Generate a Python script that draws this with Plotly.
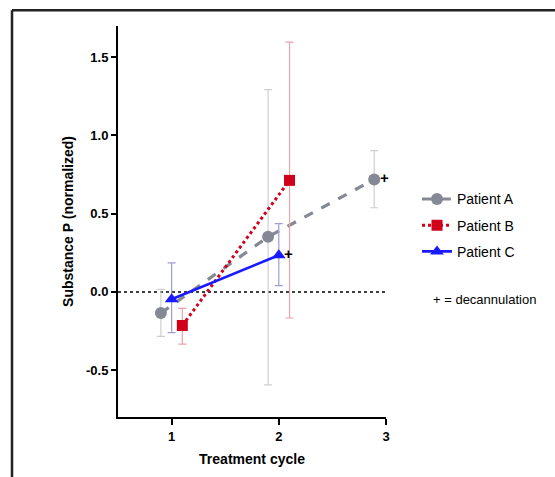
import plotly.graph_objects as go

# ---- data ----
cycle_a = [0.9, 1.9, 2.89]
value_a = [-0.135, 0.352, 0.719]
err_plus_a = [0.151, 0.941, 0.184]
err_minus_a = [0.150, 0.947, 0.181]

cycle_b = [1.1, 2.1]
value_b = [-0.215, 0.713]
err_plus_b = [0.109, 0.884]
err_minus_b = [0.119, 0.880]

cycle_c = [1.0, 2.0]
value_c = [-0.047, 0.234]
err_plus_c = [0.232, 0.203]
err_minus_c = [0.213, 0.194]

decann_x = [2.89, 2.0]
decann_y = [0.719, 0.234]

x_ticks = [1, 2, 3]
x_ticktext = ["1", "2", "3"]
y_ticks = [-0.5, 0.0, 0.5, 1.0, 1.5]
y_ticktext = ["-0.5", "0.0", "0.5", "1.0", "1.5"]

FONT = "Liberation Sans, Arial, Helvetica, sans-serif"

W, H = 555, 477
ML, MR, MT, MB = 118, 169, 26, 56
PW, PH = W - ML - MR, H - MT - MB

fig = go.Figure()

fig.add_trace(go.Scatter(
    x=cycle_a, y=value_a, name="Patient A", mode="lines+markers",
    line=dict(color="#858995", width=3.2, dash="dash"),
    marker=dict(symbol="circle", size=12, color="#858995"),
    error_y=dict(type="data", symmetric=False, array=err_plus_a, arrayminus=err_minus_a,
                 color="#cfcfcf", thickness=1.2, width=4),
    legendgroup="a",
))
fig.add_trace(go.Scatter(
    x=cycle_b, y=value_b, name="Patient B", mode="lines+markers",
    line=dict(color="#d0021b", width=3, dash="dot"),
    marker=dict(symbol="square", size=11, color="#d0021b"),
    error_y=dict(type="data", symmetric=False, array=err_plus_b, arrayminus=err_minus_b,
                 color="#e8a3ab", thickness=1.2, width=4),
    legendgroup="b",
))
fig.add_trace(go.Scatter(
    x=cycle_c, y=value_c, name="Patient C", mode="lines+markers",
    line=dict(color="#1a1aff", width=2.6),
    marker=dict(symbol="triangle-up", size=12, color="#1a1aff"),
    error_y=dict(type="data", symmetric=False, array=err_plus_c, arrayminus=err_minus_c,
                 color="#9d9dd6", thickness=1.2, width=4),
    legendgroup="c",
))

# zero reference line
fig.add_shape(type="line", xref="paper", x0=0, x1=1, yref="y", y0=0, y1=0,
              line=dict(color="black", width=1.5, dash="dot"), layer="below")

# decannulation marks
for xv, yv in zip(decann_x, decann_y):
    fig.add_annotation(x=xv, y=yv, text="+", showarrow=False, xshift=10, yshift=2,
                       font=dict(family=FONT, size=15, color="black", weight="bold"))


def px_x(px):
    return (px - ML) / PW


def px_y(py):
    return (H - MB - py) / PH


fig.add_annotation(xref="paper", yref="paper", x=px_x(431), y=px_y(302),
                   xanchor="left", yanchor="middle", text="+ = decannulation", showarrow=False,
                   xshift=0, font=dict(family=FONT, size=13, color="black"))

# outer frame (top and left lines)
fig.add_shape(type="line", xref="paper", yref="paper", x0=px_x(12), x1=px_x(600),
              y0=px_y(10), y1=px_y(10), line=dict(color="#222222", width=2.5))
fig.add_shape(type="line", xref="paper", yref="paper", x0=px_x(12), x1=px_x(12),
              y0=px_y(10), y1=px_y(500), line=dict(color="#222222", width=2.5))

fig.update_layout(
    width=W, height=H,
    margin=dict(l=ML, r=MR, t=MT, b=MB),
    paper_bgcolor="white", plot_bgcolor="white",
    font=dict(family=FONT, color="black"),
    showlegend=True,
    legend=dict(x=px_x(417), y=px_y(185), xanchor="left", yanchor="top",
                font=dict(family=FONT, size=14, color="black"),
                tracegroupgap=5, traceorder="grouped", bgcolor="rgba(0,0,0,0)"),
    xaxis=dict(range=[0.5, 3.0], tickvals=x_ticks, ticktext=x_ticktext,
               showline=True, linecolor="black", linewidth=2, showgrid=False, zeroline=False,
               ticks="outside", ticklen=6, tickwidth=2, tickcolor="black",
               tickfont=dict(family=FONT, size=13, color="black", weight="bold"),
               title=dict(text="Treatment cycle", standoff=12,
                          font=dict(family=FONT, size=14, color="black", weight="bold"))),
    yaxis=dict(range=[-0.8, 1.7], tickvals=y_ticks, ticktext=y_ticktext,
               showline=True, linecolor="black", linewidth=2, showgrid=False, zeroline=False,
               ticks="outside", ticklen=5, tickwidth=2, tickcolor="black",
               tickfont=dict(family=FONT, size=13, color="black", weight="bold"),
               title=dict(text="Substance P (normalized)", standoff=9,
                          font=dict(family=FONT, size=14, color="black", weight="bold"))),
)

fig.write_html("out.html")
